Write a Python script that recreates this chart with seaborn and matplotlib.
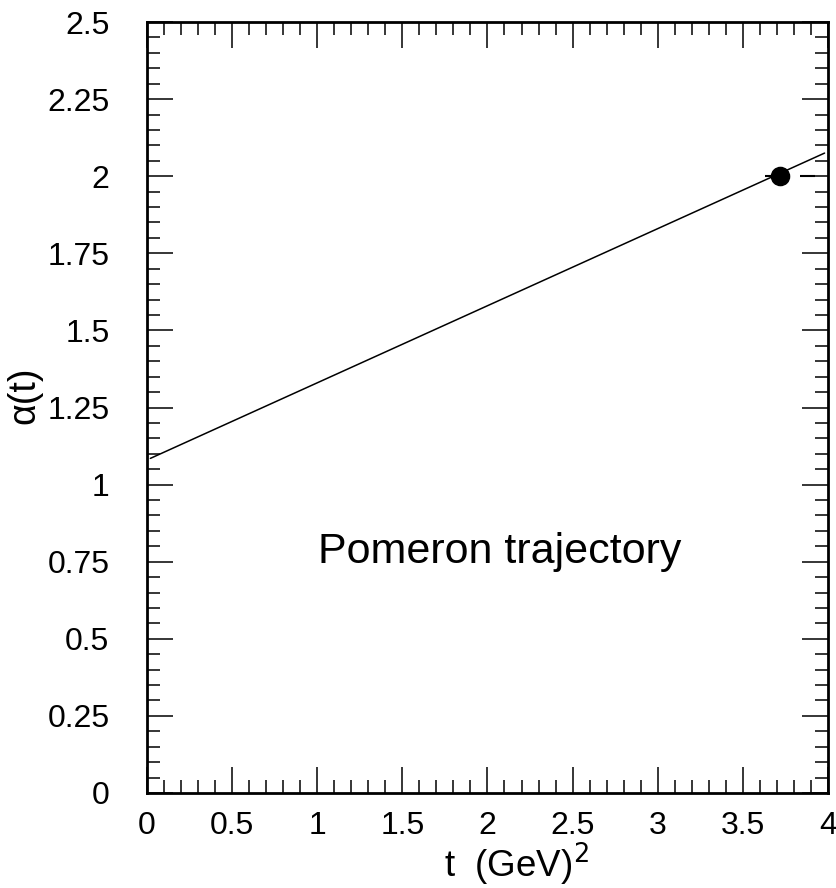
import numpy as np
import pandas as pd
import matplotlib
matplotlib.use('Agg')
import matplotlib.pyplot as plt
from matplotlib.ticker import MultipleLocator, FuncFormatter
import seaborn as sns

# Trajectory line end points
t_line = [0.02, 3.98]
alpha_line = [1.085, 2.075]

# Measured point with horizontal error
t_point = [3.72]
alpha_point = [2.0]
t_err_low = [0.09]
t_err_high = [0.205]

x_major = 0.5
y_major = 0.25

sns.set_theme(style='ticks')
plt.rcParams['font.family'] = ['Liberation Sans', 'DejaVu Sans']
plt.rcParams['lines.scale_dashes'] = False
plt.rcParams['text.color'] = 'black'
plt.rcParams['axes.labelcolor'] = 'black'

fig = plt.figure(figsize=(8.36, 8.88), dpi=100)
ax = fig.add_axes([0.1758, 0.107, 0.8146, 0.8682])

line_df = pd.DataFrame({'t': t_line, 'alpha': alpha_line})
sns.lineplot(data=line_df, x='t', y='alpha', ax=ax, color='black', linewidth=1.1)

eb = ax.errorbar(t_point, alpha_point, xerr=[t_err_low, t_err_high], fmt='none',
                 ecolor='black', elinewidth=1.5, capsize=0)
eb[2][0].set_linestyle((0, (10.8, 14.4)))

pt_df = pd.DataFrame({'t': t_point, 'alpha': alpha_point})
sns.scatterplot(data=pt_df, x='t', y='alpha', ax=ax, color='black', s=170,
                edgecolor='black', zorder=5)

ax.text(2.07, 0.78, 'Pomeron trajectory', fontsize=31, ha='center', va='center',
        color='black')

ax.set_xlim(0, 4)
ax.set_ylim(0, 2.5)
ax.xaxis.set_major_locator(MultipleLocator(x_major))
ax.xaxis.set_minor_locator(MultipleLocator(0.1))
ax.yaxis.set_major_locator(MultipleLocator(y_major))
ax.yaxis.set_minor_locator(MultipleLocator(0.05))
fmt = FuncFormatter(lambda v, p: '%g' % v)
ax.xaxis.set_major_formatter(fmt)
ax.yaxis.set_major_formatter(fmt)

ax.tick_params(which='both', direction='in', top=True, right=True,
               color='black', labelsize=23, labelcolor='black')
ax.tick_params(which='major', length=19, width=1.1)
ax.tick_params(which='minor', length=9.5, width=1.1)
ax.tick_params(axis='x', which='major', pad=13)
ax.tick_params(axis='y', which='major', pad=27)

for s in ax.spines.values():
    s.set_linewidth(2)
    s.set_color('black')

ax.set_xlabel(r't  (GeV)$^{2}$', fontsize=26.5)
ax.xaxis.set_label_coords(0.542, -0.062)
ax.set_ylabel('α(t)', fontsize=27)
ax.yaxis.set_label_coords(-0.154, 0.516)

fig.savefig('out.png', dpi=100)
